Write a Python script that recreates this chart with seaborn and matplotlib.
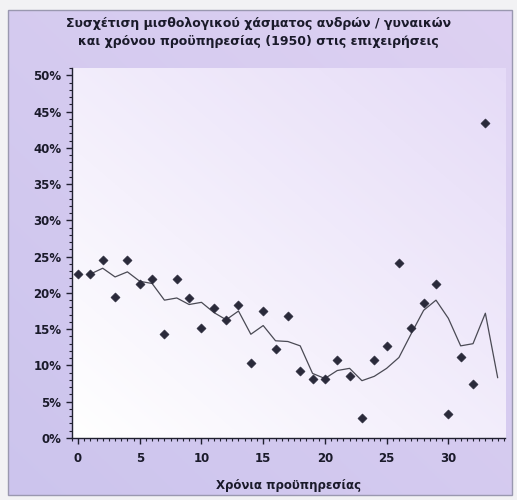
import numpy as np
import pandas as pd
import matplotlib
matplotlib.use("Agg")
import matplotlib.pyplot as plt
from matplotlib.ticker import MultipleLocator, FuncFormatter
from matplotlib.patches import Rectangle
import seaborn as sns

# Years of service and wage gap (%) per year
years = list(range(0, 34))
gap_pct = [22.6, 22.6, 24.5, 19.4, 24.5, 21.2, 21.9, 14.3, 21.9, 19.3,
           15.2, 17.9, 16.3, 18.3, 10.4, 17.5, 12.3, 16.8, 9.3, 8.2,
           8.2, 10.7, 8.6, 2.8, 10.7, 12.7, 24.1, 15.2, 18.6, 21.2,
           3.3, 11.1, 7.5, 43.4]

# Moving-average trend line
trend_years = list(range(1, 35))
trend_pct = [22.6, 23.4, 22.2, 22.9, 21.6, 21.3, 19.0, 19.3, 18.4, 18.7,
             17.3, 16.3, 17.5, 14.3, 15.5, 13.4, 13.3, 12.7, 8.9, 8.2,
             9.3, 9.6, 7.9, 8.5, 9.6, 11.1, 14.4, 17.6, 19.0, 16.5,
             12.7, 13.0, 17.2, 8.3]

title = ("Συσχέτιση μισθολογικού χάσματος ανδρών / γυναικών\n"
         "και χρόνου προϋπηρεσίας (1950) στις επιχειρήσεις")
xlabel = "Χρόνια προϋπηρεσίας"

df = pd.DataFrame({"years": years, "gap": gap_pct})
tr = pd.DataFrame({"years": trend_years, "gap": trend_pct})

sns.set_theme(style="white")
plt.rcParams["font.family"] = ["DejaVu Sans"]

fig = plt.figure(figsize=(5.17, 5.0), dpi=100)
fig.patch.set_facecolor("#f2f2f4")

# lavender chart area with a soft gradient
bg = fig.add_axes([0, 0, 1, 1], zorder=-10)
bg.set_axis_off()
gx = np.linspace(0, 1, 200)
gy = np.linspace(0, 1, 200)
GX, GY = np.meshgrid(gx, gy)
c1 = np.array([0.80, 0.77, 0.93])
c2 = np.array([0.87, 0.82, 0.95])
t = (0.5 * GX + 0.5 * GY)[..., None]
grad = c1 * (1 - t) + c2 * t
bg.imshow(grad, extent=[0.015, 0.99, 0.01, 0.98], origin="lower",
          aspect="auto", transform=bg.transAxes, zorder=0)
bg.add_patch(Rectangle((0.015, 0.01), 0.975, 0.97, transform=bg.transAxes,
                       fill=False, edgecolor="#9a98b0", lw=1.0, zorder=1))
bg.set_xlim(0, 1)
bg.set_ylim(0, 1)

ax = fig.add_axes([0.139, 0.124, 0.838, 0.740])

# plot area gradient: white lower-left to pale lavender upper-right
pt = (0.6 * GX + 0.6 * GY)[..., None] / 1.2
pa = np.array([1.0, 1.0, 1.0]) * (1 - pt) + np.array([0.90, 0.86, 0.97]) * pt
ax.imshow(pa, extent=[0, 1, 0, 1], origin="lower", aspect="auto",
          transform=ax.transAxes, zorder=0)

sns.lineplot(data=tr, x="years", y="gap", ax=ax, color="#4a4a54",
             linewidth=0.9, zorder=2)
sns.scatterplot(data=df, x="years", y="gap", ax=ax, marker="D", s=22,
                color="#2a2a3a", edgecolor="#2a2a3a", zorder=3)

ax.set_xlim(-0.5, 34.6)
ax.set_ylim(0, 51)
ax.xaxis.set_major_locator(MultipleLocator(5))
ax.xaxis.set_minor_locator(MultipleLocator(0.5))
ax.yaxis.set_major_locator(MultipleLocator(5))
ax.yaxis.set_minor_locator(MultipleLocator(1))
ax.yaxis.set_major_formatter(FuncFormatter(lambda v, p: f"{v:.0f}%"))

for s in ["top", "right"]:
    ax.spines[s].set_visible(False)
for s in ["left", "bottom"]:
    ax.spines[s].set_color("#202030")
    ax.spines[s].set_linewidth(1.0)

ax.tick_params(axis="both", which="both", bottom=True, left=True)
ax.tick_params(axis="both", which="major", direction="out", length=4,
               width=1, color="#202030", labelsize=8.5, labelcolor="#1a1a2a")
ax.tick_params(axis="both", which="minor", direction="out", length=2.5,
               width=0.8, color="#202030")
ax.tick_params(axis="x", which="major", pad=6)
for lbl in ax.get_xticklabels() + ax.get_yticklabels():
    lbl.set_fontweight("bold")

ax.set_xlabel(xlabel, fontsize=8.5, fontweight="bold", color="#1a1a2a",
              labelpad=10)
ax.set_ylabel("")

fig.text(0.50, 0.935, title, ha="center", va="center", fontsize=9,
         fontweight="bold", color="#1a1a2a", linespacing=1.5)

fig.savefig("out.png", dpi=100, facecolor=fig.get_facecolor())
